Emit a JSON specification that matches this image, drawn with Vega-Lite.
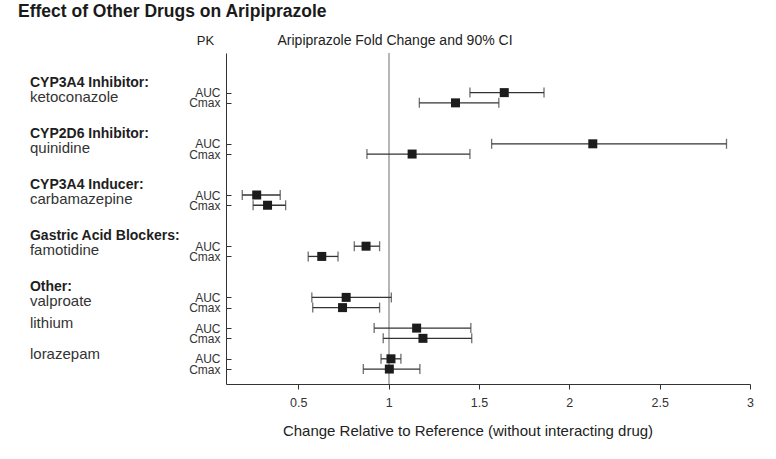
{
  "$schema": "https://vega.github.io/schema/vega-lite/v6.json",
  "width": 524,
  "height": 331,
  "autosize": {"type": "none"},
  "padding": {"left": 226, "top": 53, "right": 26, "bottom": 75},
  "background": "white",
  "config": {"view": {"stroke": null}, "font": "Liberation Sans"},
  "title": {
    "text": "Effect of Other Drugs on Aripiprazole",
    "anchor": "start",
    "frame": "group",
    "dx": -208,
    "offset": -1,
    "baseline": "alphabetic",
    "font": "Liberation Sans",
    "fontSize": 17.5,
    "fontWeight": "bold",
    "color": "#1a1a1a"
  },
  "datasets": {
    "pk": [
      {"id": "ketoconazole|AUC", "drug": "ketoconazole", "pk": "AUC", "ratio": 1.64, "lo": 1.45, "hi": 1.86},
      {"id": "ketoconazole|Cmax", "drug": "ketoconazole", "pk": "Cmax", "ratio": 1.37, "lo": 1.17, "hi": 1.61},
      {"id": "quinidine|AUC", "drug": "quinidine", "pk": "AUC", "ratio": 2.13, "lo": 1.57, "hi": 2.87},
      {"id": "quinidine|Cmax", "drug": "quinidine", "pk": "Cmax", "ratio": 1.13, "lo": 0.88, "hi": 1.45},
      {"id": "carbamazepine|AUC", "drug": "carbamazepine", "pk": "AUC", "ratio": 0.27, "lo": 0.19, "hi": 0.4},
      {"id": "carbamazepine|Cmax", "drug": "carbamazepine", "pk": "Cmax", "ratio": 0.33, "lo": 0.25, "hi": 0.43},
      {"id": "famotidine|AUC", "drug": "famotidine", "pk": "AUC", "ratio": 0.875, "lo": 0.81, "hi": 0.95},
      {"id": "famotidine|Cmax", "drug": "famotidine", "pk": "Cmax", "ratio": 0.63, "lo": 0.555, "hi": 0.72},
      {"id": "valproate|AUC", "drug": "valproate", "pk": "AUC", "ratio": 0.765, "lo": 0.575, "hi": 1.015},
      {"id": "valproate|Cmax", "drug": "valproate", "pk": "Cmax", "ratio": 0.745, "lo": 0.58, "hi": 0.95},
      {"id": "lithium|AUC", "drug": "lithium", "pk": "AUC", "ratio": 1.155, "lo": 0.92, "hi": 1.455},
      {"id": "lithium|Cmax", "drug": "lithium", "pk": "Cmax", "ratio": 1.19, "lo": 0.97, "hi": 1.46},
      {"id": "lorazepam|AUC", "drug": "lorazepam", "pk": "AUC", "ratio": 1.013, "lo": 0.958, "hi": 1.068},
      {"id": "lorazepam|Cmax", "drug": "lorazepam", "pk": "Cmax", "ratio": 1.004, "lo": 0.86, "hi": 1.173}
    ],
    "labels": [
      {"id": "ketoconazole|AUC", "text": "CYP3A4 Inhibitor:", "kind": "class"},
      {"id": "quinidine|AUC", "text": "CYP2D6 Inhibitor:", "kind": "class"},
      {"id": "carbamazepine|AUC", "text": "CYP3A4 Inducer:", "kind": "class"},
      {"id": "famotidine|AUC", "text": "Gastric Acid Blockers:", "kind": "class"},
      {"id": "valproate|AUC", "text": "Other:", "kind": "class"},
      {"id": "ketoconazole|AUC", "text": "ketoconazole", "kind": "drug"},
      {"id": "quinidine|AUC", "text": "quinidine", "kind": "drug"},
      {"id": "carbamazepine|AUC", "text": "carbamazepine", "kind": "drug"},
      {"id": "famotidine|AUC", "text": "famotidine", "kind": "drug"},
      {"id": "valproate|AUC", "text": "valproate", "kind": "drug"},
      {"id": "lithium|AUC", "text": "lithium", "kind": "other"},
      {"id": "lorazepam|AUC", "text": "lorazepam", "kind": "other"}
    ]
  },
  "data": {"name": "pk"},
  "layer": [
    {
      "mark": {"type": "rule", "color": "#b5b5b5", "strokeWidth": 1.2},
      "encoding": {
        "x": {
          "datum": 1,
          "type": "quantitative",
          "scale": {"domain": [0.1, 3], "nice": false, "zero": false},
          "axis": {
            "orient": "top",
            "title": "Aripiprazole Fold Change and 90% CI",
            "domain": false,
            "ticks": false,
            "labels": false,
            "grid": false,
            "titleX": 51,
            "titleY": -9,
            "titleAlign": "left",
            "titleBaseline": "alphabetic",
            "titleFontWeight": "normal",
            "titleFontSize": 14,
            "titleColor": "#222"
          }
        }
      }
    },
    {
      "encoding": {
        "y": {
          "field": "id",
          "type": "nominal",
          "scale": {
            "type": "point",
            "domain": [
              "t1", "t2", "t3",
              "ketoconazole|AUC", "ketoconazole|Cmax", "g1", "g2", "g3",
              "quinidine|AUC", "quinidine|Cmax", "g4", "g5", "g6",
              "carbamazepine|AUC", "carbamazepine|Cmax", "g7", "g8", "g9",
              "famotidine|AUC", "famotidine|Cmax", "g10", "g11", "g12",
              "valproate|AUC", "valproate|Cmax", "g13",
              "lithium|AUC", "lithium|Cmax", "g14",
              "lorazepam|AUC", "lorazepam|Cmax", "b1"
            ],
            "padding": 0.665,
            "align": 0.654
          },
          "axis": {
            "values": [
              "ketoconazole|AUC", "ketoconazole|Cmax",
              "quinidine|AUC", "quinidine|Cmax",
              "carbamazepine|AUC", "carbamazepine|Cmax",
              "famotidine|AUC", "famotidine|Cmax",
              "valproate|AUC", "valproate|Cmax",
              "lithium|AUC", "lithium|Cmax",
              "lorazepam|AUC", "lorazepam|Cmax"
            ],
            "labelExpr": "split(datum.value, '|')[1]",
            "title": "PK",
            "titleAngle": 0,
            "titleAlign": "center",
            "titleBaseline": "alphabetic",
            "titleX": -21,
            "titleY": -9,
            "titleFontWeight": "normal",
            "titleFontSize": 13,
            "titleColor": "#222",
            "labelFontSize": 12,
            "labelColor": "#333",
            "labelOverlap": false,
            "labelBound": false,
            "labelLimit": 0,
            "tickSize": -5,
            "labelPadding": 11,
            "tickColor": "#333",
            "domainColor": "#333",
            "grid": false
          }
        }
      },
      "layer": [
        {
          "mark": {"type": "rule", "color": "#333", "strokeWidth": 1.3},
          "encoding": {
            "x": {
              "field": "lo",
              "type": "quantitative",
              "scale": {"domain": [0.1, 3], "nice": false, "zero": false},
              "axis": {
                "orient": "bottom",
                "values": [0.5, 1, 1.5, 2, 2.5, 3],
                "format": "~g",
                "title": "Change Relative to Reference (without interacting drug)",
                "titleX": 241.5,
                "titleAlign": "center",
                "titleFontWeight": "normal",
                "titleFontSize": 15,
                "titleColor": "#222",
                "titlePadding": 15,
                "labelFontSize": 12.5,
                "labelColor": "#333",
                "labelPadding": 7,
                "labelFlush": false,
                "tickSize": 5,
                "tickColor": "#333",
                "domainColor": "#333",
                "grid": false
              }
            },
            "x2": {"field": "hi"}
          }
        },
        {
          "mark": {"type": "tick", "orient": "vertical", "size": 10, "thickness": 1.3, "color": "#333"},
          "encoding": {
            "x": {"field": "lo", "type": "quantitative", "scale": {"domain": [0.1, 3], "nice": false, "zero": false}}
          }
        },
        {
          "mark": {"type": "tick", "orient": "vertical", "size": 10, "thickness": 1.3, "color": "#333"},
          "encoding": {
            "x": {"field": "hi", "type": "quantitative", "scale": {"domain": [0.1, 3], "nice": false, "zero": false}}
          }
        },
        {
          "mark": {"type": "square", "size": 81, "filled": true, "color": "#1c1c1c", "opacity": 1},
          "encoding": {
            "x": {"field": "ratio", "type": "quantitative", "scale": {"domain": [0.1, 3], "nice": false, "zero": false}}
          }
        },
        {
          "data": {"name": "labels"},
          "transform": [{"filter": "datum.kind === 'class'"}],
          "mark": {"type": "text", "align": "left", "baseline": "alphabetic", "dy": -6, "font": "Liberation Sans", "fontSize": 14, "fontWeight": "bold", "color": "#1e1e1e"},
          "encoding": {
            "x": {"datum": -0.985, "type": "quantitative"},
            "text": {"field": "text"}
          }
        },
        {
          "data": {"name": "labels"},
          "transform": [{"filter": "datum.kind === 'drug'"}],
          "mark": {"type": "text", "align": "left", "baseline": "alphabetic", "dy": 9, "font": "Liberation Sans", "fontSize": 15, "color": "#333"},
          "encoding": {
            "x": {"datum": -0.985, "type": "quantitative"},
            "text": {"field": "text"}
          }
        },
        {
          "data": {"name": "labels"},
          "transform": [{"filter": "datum.kind === 'other'"}],
          "mark": {"type": "text", "align": "left", "baseline": "alphabetic", "dy": 0, "font": "Liberation Sans", "fontSize": 15, "color": "#333"},
          "encoding": {
            "x": {"datum": -0.985, "type": "quantitative"},
            "text": {"field": "text"}
          }
        }
      ]
    }
  ],
  "resolve": {"axis": {"x": "independent"}}
}
